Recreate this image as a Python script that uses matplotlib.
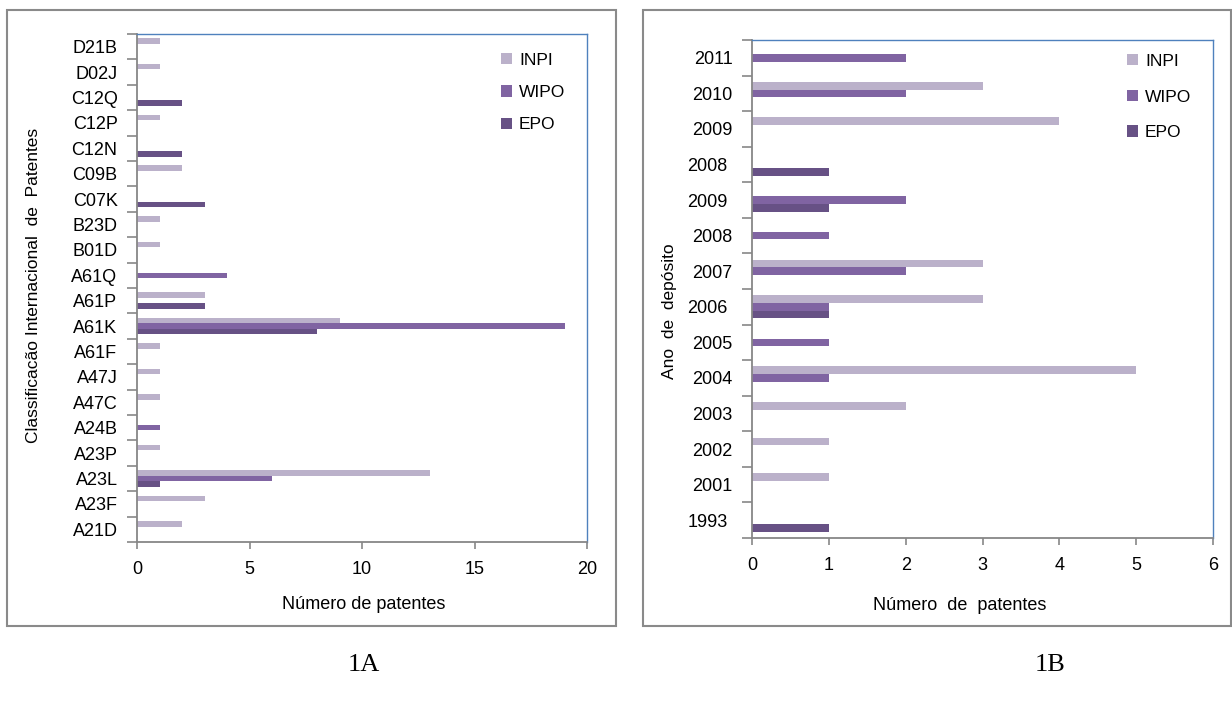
import matplotlib.pyplot as plt
from matplotlib.patches import Rectangle
from matplotlib.transforms import ScaledTranslation

plt.rcParams['font.family'] = ['Liberation Sans', 'DejaVu Sans']
plt.rcParams['font.size'] = 12

# 1A - patents by international classification
classes = ['D21B', 'D02J', 'C12Q', 'C12P', 'C12N', 'C09B', 'C07K', 'B23D', 'B01D', 'A61Q',
           'A61P', 'A61K', 'A61F', 'A47J', 'A47C', 'A24B', 'A23P', 'A23L', 'A23F', 'A21D']
inpi_a = [1, 1, 0, 1, 0, 2, 0, 1, 1, 0, 3, 9, 1, 1, 1, 0, 1, 13, 3, 2]
wipo_a = [0, 0, 0, 0, 0, 0, 0, 0, 0, 4, 0, 19, 0, 0, 0, 1, 0, 6, 0, 0]
epo_a = [0, 0, 2, 0, 2, 0, 3, 0, 0, 0, 3, 8, 0, 0, 0, 0, 0, 1, 0, 0]

# 1B - patents by filing year
years = ['2011', '2010', '2009', '2008', '2009', '2008', '2007', '2006', '2005', '2004',
         '2003', '2002', '2001', '1993']
inpi_b = [0, 3, 4, 0, 0, 0, 3, 3, 0, 5, 2, 1, 1, 0]
wipo_b = [2, 2, 0, 0, 2, 1, 2, 1, 1, 1, 0, 0, 0, 0]
epo_b = [0, 0, 0, 1, 1, 0, 0, 1, 0, 0, 0, 0, 0, 1]

offices = ['INPI', 'WIPO', 'EPO']
colors = ['#bbb1ca', '#8064a2', '#675185']
gray = '#878787'
blue = '#4f81bd'

W, H = 1232, 702
fig = plt.figure(figsize=(W / 100, H / 100), dpi=100)


def px_axes(x0, y0, x1, y1):
    return fig.add_axes([x0 / W, 1 - y1 / H, (x1 - x0) / W, (y1 - y0) / H])


def frame(x0, y0, x1, y1):
    fig.patches.append(Rectangle((x0 / W, 1 - y1 / H), (x1 - x0) / W, (y1 - y0) / H,
                                 transform=fig.transFigure, fill=False,
                                 edgecolor='#8a8a8a', linewidth=1.5))


def bar_panel(ax, labels, series, xmax, xstep):
    n = len(labels)
    h = 0.216
    pos = list(range(n))
    for k, (vals, col, name) in enumerate(zip(series, colors, offices)):
        ax.barh([p + (k - 1) * h for p in pos], vals, height=h, color=col,
                linewidth=0, label=name)
    ax.set_ylim(n - 0.5, -0.5)
    ax.set_xlim(0, xmax)
    ax.set_xticks(range(0, xmax + 1, xstep))
    ax.set_yticks([p - 0.5 for p in range(n + 1)])
    ax.set_yticklabels([])
    ax.set_yticks(pos, labels, minor=True)
    ax.tick_params(axis='y', which='major', length=7, width=1.2, color=gray, direction='out')
    ax.tick_params(axis='y', which='minor', length=0, pad=14, labelsize=13)
    ax.tick_params(axis='x', length=5, width=1.2, color=gray, pad=9, labelsize=13)
    for s in ('left', 'bottom'):
        ax.spines[s].set_color(gray)
        ax.spines[s].set_linewidth(1.3)
    for s in ('top', 'right'):
        ax.spines[s].set_color(blue)
        ax.spines[s].set_linewidth(1.0)


frame(7, 10, 616, 626)
frame(643, 10, 1231, 626)

ax1 = px_axes(137, 34, 587, 542)
bar_panel(ax1, classes, [inpi_a, wipo_a, epo_a], 20, 5)
ax1.set_xlabel('Número de patentes', va='center', fontsize=13)
ax1.xaxis.set_label_coords(0.503, -0.124)
ax1.set_ylabel('Classificacão Internacional  de  Patentes', va='center', fontsize=12.5)
ax1.yaxis.set_label_coords(-0.231, 0.506)
ax1.legend(loc='upper left', bbox_to_anchor=(492 / W, 1 - 44 / H),
           bbox_transform=fig.transFigure, frameon=False, borderpad=0,
           handlelength=0.65, handleheight=0.65, handletextpad=0.4,
           labelspacing=1.0, fontsize=12.5)

ax2 = px_axes(752, 40, 1213, 538)
bar_panel(ax2, years, [inpi_b, wipo_b, epo_b], 6, 1)
ax2.set_xlabel('Número  de  patentes', va='center', fontsize=13)
ax2.xaxis.set_label_coords(0.451, -0.1365)
ax2.set_ylabel('Ano  de  depósito', va='center', fontsize=12.5)
ax2.yaxis.set_label_coords(-0.180, 0.456)
ax2.legend(loc='upper left', bbox_to_anchor=(1118 / W, 1 - 45 / H),
           bbox_transform=fig.transFigure, frameon=False, borderpad=0,
           handlelength=0.65, handleheight=0.65, handletextpad=0.4,
           labelspacing=1.2, fontsize=12.5)

# a few year labels sit slightly further left
shift = ScaledTranslation(-5 / 100, 0, fig.dpi_scale_trans)
for i, lab in enumerate(ax2.yaxis.get_minorticklabels()):
    if i in (3, 4, 7, 13):
        lab.set_transform(lab.get_transform() + shift)

fig.text(364 / W, 1 - 665 / H, '1A', ha='center', va='center',
         family='Liberation Serif', fontsize=19)
fig.text(1050 / W, 1 - 665 / H, '1B', ha='center', va='center',
         family='Liberation Serif', fontsize=19)

fig.savefig('out.png', dpi=100)
